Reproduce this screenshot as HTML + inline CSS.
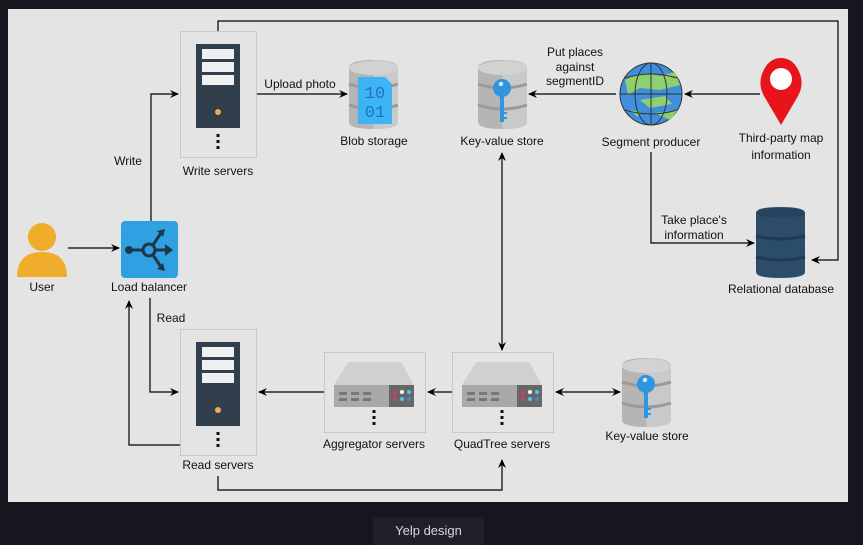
<!DOCTYPE html>
<html><head><meta charset="utf-8"><style>
html,body{margin:0;padding:0;background:#15161e;width:863px;height:545px;overflow:hidden}
svg{position:absolute;left:0;top:0}
text{font-family:"Liberation Sans",sans-serif;font-size:12px;fill:#111;text-anchor:middle}
.cap{position:absolute;left:373px;top:517px;width:111px;height:28px;background:#1f2029;border-radius:4px 4px 0 0;color:#d8d8d8;font-family:"Liberation Sans",sans-serif;font-size:13px;text-align:center;line-height:28px}
</style></head><body>
<svg width="863" height="545" viewBox="0 0 863 545">
<defs>
<marker id="a" markerWidth="10" markerHeight="10" refX="8" refY="5" orient="auto-start-reverse" markerUnits="userSpaceOnUse"><path d="M0,1 L9,5 L0,9 L3,5 Z" fill="#000"/></marker>
<g id="srv">
<rect x="0.5" y="0.5" width="76" height="126" fill="#e4e4e4" stroke="#c8c8c8"/>
<rect x="16" y="13" width="44" height="84" fill="#303f4b"/>
<rect x="22" y="18" width="32" height="10" fill="#efefef"/>
<rect x="22" y="31" width="32" height="10" fill="#efefef"/>
<rect x="22" y="44" width="32" height="10" fill="#efefef"/>
<circle cx="38" cy="81" r="3" fill="#f3a65a"/>
<rect x="36.5" y="103" width="3" height="3" fill="#111"/><rect x="36.5" y="109" width="3" height="3" fill="#111"/><rect x="36.5" y="115" width="3" height="3" fill="#111"/>
</g>
<g id="rack">
<rect x="0.5" y="0.5" width="101" height="80" fill="#e4e4e4" stroke="#c8c8c8"/>
<path d="M24,10 L77,10 L90,33 L10,33 Z" fill="#d0d0d0"/>
<rect x="10" y="33" width="56" height="22" fill="#a9a9a9"/>
<rect x="65" y="33" width="25" height="22" fill="#666"/>
<g fill="#777"><rect x="15" y="40" width="8" height="3"/><rect x="27" y="40" width="8" height="3"/><rect x="39" y="40" width="8" height="3"/><rect x="15" y="46" width="8" height="3"/><rect x="27" y="46" width="8" height="3"/><rect x="39" y="46" width="8" height="3"/></g>
<circle cx="71" cy="40" r="2" fill="#e8336a"/><circle cx="78" cy="40" r="2" fill="#fff"/><circle cx="85" cy="40" r="2" fill="#4fc6ef"/>
<circle cx="71" cy="47" r="2" fill="#e8336a"/><circle cx="78" cy="47" r="2" fill="#4fc6ef"/><circle cx="85" cy="47" r="2" fill="#2e8de0"/>
<rect x="48.5" y="58" width="3" height="3" fill="#111"/><rect x="48.5" y="64" width="3" height="3" fill="#111"/><rect x="48.5" y="70" width="3" height="3" fill="#111"/>
</g>
<g id="cyl">
<path d="M0,8 Q0,0 24.5,0 Q49,0 49,8 L49,62 Q49,69 24.5,69 Q0,69 0,62 Z" fill="#b5b5b5"/>
<path d="M24.5,0 Q49,0 49,8 L49,62 Q49,69 24.5,69 Z" fill="#c9c9c9"/>
<ellipse cx="24.5" cy="8" rx="24.5" ry="7" fill="#d2d2d2"/>
<path d="M0,24 Q24.5,32 49,24" stroke="#9a9a9a" stroke-width="3" fill="none"/>
<path d="M0,45 Q24.5,53 49,45" stroke="#9a9a9a" stroke-width="3" fill="none"/>
</g>
<g id="key">
<circle cx="0" cy="0" r="9" fill="#2f95e0"/><circle cx="-1" cy="-4" r="2.2" fill="#d8e9f7"/>
<rect x="-2" y="6" width="4" height="28" fill="#2f95e0"/><rect x="1" y="24" width="4" height="2" fill="#2f95e0"/><rect x="1" y="29" width="4" height="2" fill="#2f95e0"/>
</g>
</defs>
<rect x="8" y="9" width="840" height="493" fill="#e4e4e4"/>

<!-- connectors -->
<g stroke="#000" stroke-width="1.2" fill="none">
<line x1="68" y1="248" x2="119" y2="248" marker-end="url(#a)"/>
<polyline points="151,221 151,94 178,94" marker-end="url(#a)"/>
<line x1="257" y1="94" x2="347" y2="94" marker-end="url(#a)"/>
<line x1="616" y1="94" x2="529" y2="94" marker-end="url(#a)"/>
<line x1="760" y1="94" x2="685" y2="94" marker-end="url(#a)"/>
<polyline points="651,152 651,243 754,243" marker-end="url(#a)"/>
<polyline points="218,31 218,21 838,21 838,260 812,260" marker-end="url(#a)"/>
<line x1="502" y1="153" x2="502" y2="350" marker-start="url(#a)" marker-end="url(#a)"/>
<polyline points="150,298 150,392 178,392" marker-end="url(#a)"/>
<polyline points="180,445 129,445 129,301" marker-end="url(#a)"/>
<line x1="453" y1="392" x2="428" y2="392" marker-end="url(#a)"/>
<line x1="324" y1="392" x2="259" y2="392" marker-end="url(#a)"/>
<line x1="556" y1="392" x2="620" y2="392" marker-start="url(#a)" marker-end="url(#a)"/>
<polyline points="218,476 218,490 502,490 502,460" marker-end="url(#a)"/>
</g>

<!-- user -->
<circle cx="42" cy="237" r="14" fill="#f0ad2c"/>
<path d="M17,277 Q17,252 42,252 Q67,252 67,277 Z" fill="#f0ad2c"/>
<text x="42" y="291">User</text>

<!-- load balancer -->
<rect x="121" y="221" width="57" height="57" rx="4" fill="#2fa1e2"/>
<g stroke="#20364a" stroke-width="3" fill="none">
<line x1="128" y1="250" x2="142" y2="250"/>
<circle cx="149" cy="250" r="6"/>
<line x1="155" y1="250" x2="168" y2="250"/>
<line x1="153" y1="245" x2="161" y2="233"/>
<line x1="153" y1="255" x2="161" y2="267"/>
</g>
<circle cx="129" cy="250" r="4" fill="#20364a"/>
<path d="M165,244 L173,250 L165,256 Z M157,231 L165,229 L163,237 Z M157,269 L165,271 L163,263 Z" fill="#20364a"/>
<text x="149" y="291">Load balancer</text>

<text x="128" y="165">Write</text>
<text x="171" y="322">Read</text>

<use href="#srv" x="180" y="31"/>
<text x="218" y="175">Write servers</text>
<use href="#srv" x="180" y="329"/>
<text x="218" y="469">Read servers</text>

<text x="300" y="88">Upload photo</text>

<!-- blob -->
<use href="#cyl" x="349" y="60"/>
<path d="M358,77 L385,77 L392,84 L392,124 L358,124 Z" fill="#3fb4f5"/>
<text x="375" y="98" style="font-family:'Liberation Mono',monospace;font-size:17px;fill:#1d74b8">10</text>
<text x="375" y="117" style="font-family:'Liberation Mono',monospace;font-size:17px;fill:#1d74b8">01</text>
<text x="374" y="145">Blob storage</text>

<!-- kv top -->
<use href="#cyl" x="478" y="60"/>
<use href="#key" x="502" y="88"/>
<text x="502" y="145">Key-value store</text>

<text x="575" y="56">Put places</text>
<text x="575" y="71">against</text>
<text x="575" y="85">segmentID</text>

<!-- globe -->
<circle cx="651" cy="94" r="31" fill="#3f8fdc" stroke="#333" stroke-width="1"/>
<path d="M625,80 Q640,70 660,76 L675,72 L680,85 L660,90 L640,88 L628,95 Z M640,100 L665,96 L672,104 L650,108 Z M630,110 L640,112 L638,117 Z M655,113 L678,110 L670,120 Z" fill="#8ed070"/>
<g stroke="#333" stroke-width="1" fill="none">
<line x1="620" y1="94" x2="682" y2="94"/><line x1="651" y1="63" x2="651" y2="125"/>
<ellipse cx="651" cy="94" rx="16" ry="31"/>
<path d="M625,78 Q651,70 677,78 M625,110 Q651,118 677,110"/>
</g>
<text x="651" y="146">Segment producer</text>

<!-- pin -->
<path d="M781,125 L764,96 Q758,85 762,74 Q768,58 781,58 Q794,58 800,74 Q804,85 798,96 Z" fill="#e8141b"/>
<circle cx="781" cy="79" r="11" fill="#fff"/>
<text x="781" y="142">Third-party map</text>
<text x="781" y="159">information</text>

<text x="694" y="224">Take place's</text>
<text x="694" y="239">information</text>

<!-- relational db -->
<path d="M756,213 Q756,207 780.5,207 Q805,207 805,213 L805,272 Q805,278 780.5,278 Q756,278 756,272 Z" fill="#2c4d6a"/>
<ellipse cx="780.5" cy="213" rx="24.5" ry="5" fill="#27445e"/>
<path d="M756,236 Q780.5,242 805,236 M756,257 Q780.5,263 805,257" stroke="#1f3a52" stroke-width="3" fill="none"/>
<text x="781" y="293">Relational database</text>

<use href="#rack" x="324" y="352"/>
<text x="374" y="448">Aggregator servers</text>
<use href="#rack" x="452" y="352"/>
<text x="502" y="448">QuadTree servers</text>

<use href="#cyl" x="622" y="358"/>
<use href="#key" x="646" y="384"/>
<text x="647" y="440">Key-value store</text>
</svg>
<div class="cap">Yelp design</div>
</body></html>
